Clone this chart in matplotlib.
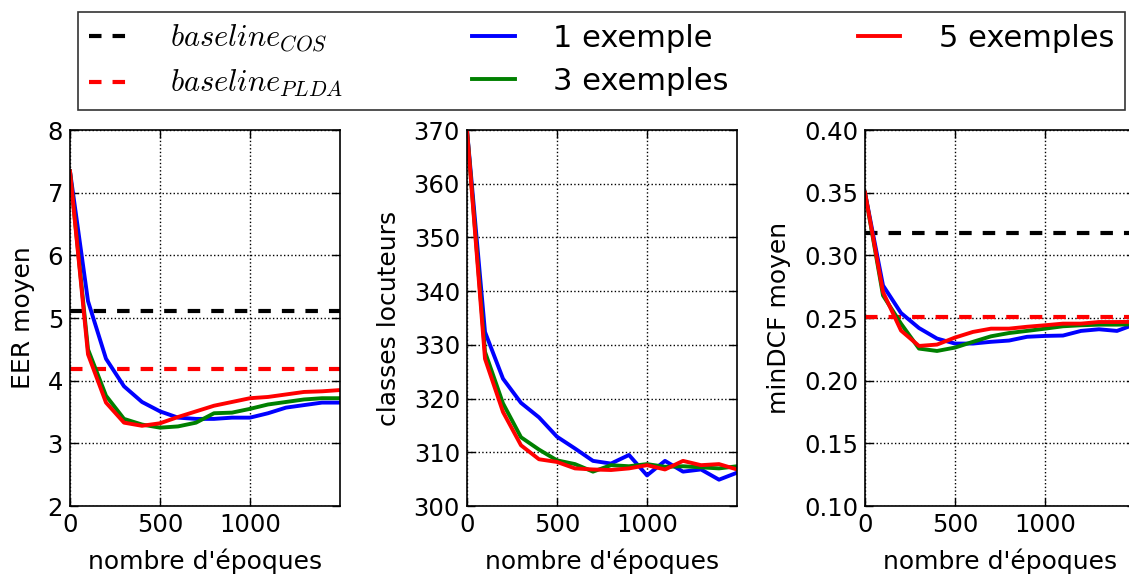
import matplotlib
matplotlib.use("Agg")
import matplotlib.pyplot as plt
import numpy as np

plt.rcParams['font.family'] = ['DejaVu Sans']
plt.rcParams['mathtext.fontset'] = 'cm'

epochs = [0, 100, 200, 300, 400, 500, 600, 700, 800, 900, 1000, 1100, 1200, 1300, 1400, 1500]

eer_1 = [7.34, 5.27, 4.35, 3.91, 3.66, 3.51, 3.41, 3.39, 3.39, 3.41, 3.41, 3.48, 3.57, 3.61, 3.65, 3.65]
eer_3 = [7.34, 4.50, 3.76, 3.39, 3.30, 3.25, 3.27, 3.33, 3.48, 3.49, 3.55, 3.62, 3.66, 3.70, 3.72, 3.72]
eer_5 = [7.34, 4.42, 3.65, 3.33, 3.28, 3.32, 3.42, 3.51, 3.60, 3.66, 3.72, 3.74, 3.78, 3.82, 3.83, 3.85]
eer_cos = 5.11
eer_plda = 4.18

cls_1 = [370, 332.4, 323.7, 319.2, 316.5, 312.9, 310.7, 308.4, 307.9, 309.5, 305.7, 308.4, 306.4, 306.8, 304.9, 306.2]
cls_3 = [370, 328.7, 319.1, 312.8, 310.5, 308.5, 307.8, 306.4, 307.6, 307.4, 307.8, 307.3, 307.4, 307.2, 307.0, 307.4]
cls_5 = [370, 327.4, 317.5, 311.3, 308.7, 308.2, 307.0, 306.8, 306.7, 307.0, 307.6, 306.8, 308.4, 307.6, 307.8, 306.8]

dcf_1 = [0.350, 0.276, 0.254, 0.242, 0.2336, 0.2296, 0.2296, 0.231, 0.232, 0.235, 0.2357, 0.236, 0.2397, 0.241, 0.2397, 0.245]
dcf_3 = [0.350, 0.268, 0.2455, 0.2256, 0.2237, 0.2264, 0.231, 0.2354, 0.238, 0.2397, 0.2415, 0.2434, 0.2442, 0.2447, 0.2447, 0.245]
dcf_5 = [0.350, 0.2707, 0.240, 0.2277, 0.2288, 0.2344, 0.2389, 0.2415, 0.2415, 0.243, 0.2442, 0.2455, 0.2455, 0.2468, 0.2468, 0.247]
dcf_cos = 0.3177
dcf_plda = 0.251

labels_base = [r'$baseline_{COS}$', r'$baseline_{PLDA}$']
labels_series = ['1 exemple', '3 exemples', '5 exemples']
series_colors = ['blue', 'green', 'red']
ylabels = ['EER moyen', 'classes locuteurs', 'minDCF moyen']
xlabel = "nombre d'époques"
ylims = [(2, 8), (300, 370), (0.10, 0.40)]
yticks = [np.arange(2, 8.01, 1), np.arange(300, 370.1, 10), np.arange(0.10, 0.401, 0.05)]
xticks = [0, 500, 1000]

W, H = 1129, 578
fig = plt.figure(figsize=(W / 100, H / 100), dpi=100)
fig.patch.set_facecolor('white')

lefts = [70, 467, 865]
ax_w = 270
ax_top, ax_bot = 130, 506

data = [
    (eer_1, eer_3, eer_5, eer_cos, eer_plda),
    (cls_1, cls_3, cls_5, None, None),
    (dcf_1, dcf_3, dcf_5, dcf_cos, dcf_plda),
]

handles = None
for i, (s1, s3, s5, bc, bp) in enumerate(data):
    ax = fig.add_axes([lefts[i] / W, (H - ax_bot) / H, ax_w / W, (ax_bot - ax_top) / H])
    hb = []
    if bc is not None:
        h1, = ax.plot([0, 1500], [bc, bc], color='black', lw=3, dashes=(3.0, 2.65), label=labels_base[0])
        h2, = ax.plot([0, 1500], [bp, bp], color='red', lw=3, dashes=(3.0, 2.65), label=labels_base[1])
        hb = [h1, h2]
    hs = []
    for vals, c, lab in zip((s1, s3, s5), series_colors, labels_series):
        h, = ax.plot(epochs, vals, color=c, lw=2.8, label=lab)
        hs.append(h)
    if hb and handles is None:
        handles = hb + hs
    ax.set_xlim(0, 1500)
    ax.set_ylim(*ylims[i])
    ax.set_xticks(xticks)
    ax.set_yticks(yticks[i])
    if i == 2:
        ax.set_yticklabels(['%.2f' % v for v in yticks[i]])
    ax.grid(True, color='black', linestyle=':', linewidth=1.0)
    ax.tick_params(direction='in', top=True, right=True, length=6, width=1, labelsize=17.5, pad=5)
    for sp in ax.spines.values():
        sp.set_linewidth(1.2)
    ax.set_ylabel(ylabels[i], fontsize=18, labelpad=9)
    ax.set_xlabel(xlabel, fontsize=18, labelpad=8)

leg = fig.legend(handles, [h.get_label() for h in handles], ncol=3, mode='expand',
                 bbox_to_anchor=(78 / W, (H - 110) / H, (1125 - 78) / W, 98 / H),
                 loc='upper left', fontsize=22, frameon=True, fancybox=False,
                 edgecolor='black', handlelength=1.4, borderaxespad=0.0,
                 borderpad=0.36, labelspacing=0.45, handletextpad=1.25)
leg.get_frame().set_linewidth(1.2)

fig.savefig('out.png', dpi=100, facecolor='white')
